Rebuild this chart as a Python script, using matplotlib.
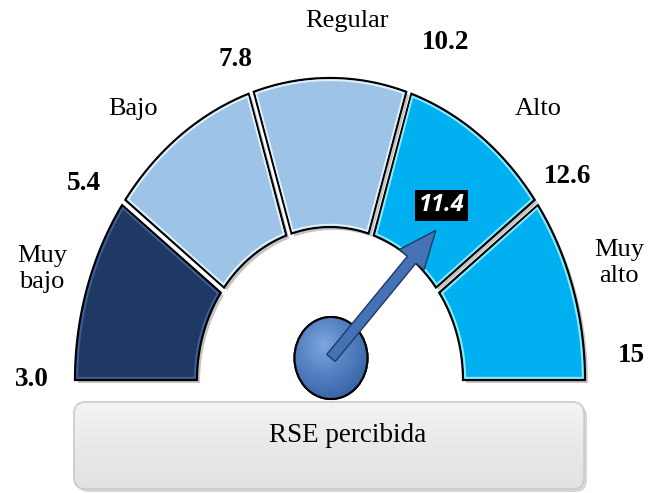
import numpy as np
import matplotlib.pyplot as plt
from matplotlib.patches import Polygon, Ellipse, FancyBboxPatch, FancyArrow

# datos del indicador
limites = [3.0, 5.4, 7.8, 10.2, 12.6, 15]
limite_labels = ['3.0', '5.4', '7.8', '10.2', '12.6', '15']
categorias = ['Muy\nbajo', 'Bajo', 'Regular', 'Alto', 'Muy\nalto']
valor = 11.4
titulo = 'RSE percibida'

colores = ['#1F3864', '#9DC3E6', '#9DC3E6', '#00B0F0', '#00B0F0']
brillos = ['#3D5E96', '#DDF0FC', '#DDF0FC', '#8CEBFF', '#8CEBFF']

# geometria del medidor (pixeles)
CX, CY = 330, 380
RXo, RYo = 255, 302
RXi, RYi = 133, 153
G = 3.0

plt.rcParams['font.family'] = ['Liberation Serif', 'DejaVu Serif']

fig = plt.figure(figsize=(6.51, 4.93), dpi=100)
ax = fig.add_axes([0, 0, 1, 1])
ax.set_xlim(0, 651)
ax.set_ylim(493, 0)
ax.axis('off')


def ang(v):
    return np.pi * (1 - (v - limites[0]) / (limites[-1] - limites[0]))


def ell(t, rx, ry):
    return CX + rx * np.cos(t), CY - ry * np.sin(t)


def segmento(i, g, dr):
    ta, tb = ang(limites[i]), ang(limites[i + 1])
    go_a = 0 if i == 0 else g
    go_b = 0 if i == len(categorias) - 1 else g
    ro = (RXo + RYo) / 2
    ri = (RXi + RYi) / 2
    t_out = np.linspace(ta - go_a / ro, tb + go_b / ro, 80)
    t_in = np.linspace(tb + go_b / ri, ta - go_a / ri, 80)
    xo, yo = ell(t_out, RXo - dr, RYo - dr)
    xi, yi = ell(t_in, RXi + dr, RYi + dr)
    pts = np.vstack([np.column_stack([xo, yo]), np.column_stack([xi, yi])])
    if dr > 0:
        pts[:, 1] = np.minimum(pts[:, 1], CY - dr)
    return pts


# segmentos con sombra
for i in range(len(categorias)):
    pts = segmento(i, G, 0)
    ax.add_patch(Polygon(pts + [3, 3], closed=True, fc='#7F7F7F', ec='none', alpha=0.45, zorder=1))
for i in range(len(categorias)):
    pts = segmento(i, G, 0)
    ax.add_patch(Polygon(pts, closed=True, fc=colores[i], ec='black', lw=1.6, zorder=2))
    ax.add_patch(Polygon(segmento(i, G + 2, 2.2), closed=True, fc='none', ec=brillos[i], lw=1.4, zorder=3))

# etiquetas de categorias
cat_off = [(-9, -4), (-25, 10), (17, -12), (36, 10), (10, -10)]
for i, lab in enumerate(categorias):
    t = (ang(limites[i]) + ang(limites[i + 1])) / 2
    x, y = ell(t, RXo * 1.15, RYo * 1.15)
    ax.text(x + cat_off[i][0], y + cat_off[i][1], lab, ha='center', va='center',
            fontsize=19, linespacing=1.25, zorder=5)

# etiquetas de limites
lim_off = [(0, 0), (-5, 11), (-2, 16), (23, -1), (-4, 4), (3, -25)]
for v, lab, off in zip(limites, limite_labels, lim_off):
    x, y = ell(ang(v), RXo * 1.17, RYo * 1.17)
    ax.text(x + off[0], y + off[1], lab, ha='center', va='center',
            fontsize=19.5, fontweight='bold', zorder=5)

# eje central
HX, HY = 331, 358
hub = Ellipse((HX, HY), 73, 82, fc='#4A7BBE', ec='black', lw=1.5, zorder=6)
ax.add_patch(hub)
gx, gy = np.meshgrid(np.linspace(-1, 1, 200), np.linspace(-1, 1, 200))
rad = np.clip(np.sqrt((gx + 0.2) ** 2 + (gy + 0.3) ** 2), 0, 1.3)
img = ax.imshow(rad, cmap=plt.matplotlib.colors.LinearSegmentedColormap.from_list(
    'hub', ['#7FA6DE', '#5584C4', '#3A66A6']), extent=(HX - 37, HX + 37, HY + 42, HY - 42),
    zorder=6.1, interpolation='bilinear')
img.set_clip_path(hub)
ax.add_patch(Ellipse((HX, HY), 73, 82, fc='none', ec='black', lw=1.5, zorder=6.2))

# aguja
t = ang(valor)
tx, ty = ell(t, 180, 185)
ax.add_patch(FancyArrow(HX, HY, tx - HX, ty - HY, width=11, head_width=32, head_length=38,
                        length_includes_head=True, fc='#4472B4', ec='#1F3B66', lw=1.0, zorder=7))

ax.text(tx + 6, ty - 25, f'{valor:.1f}', ha='center', va='center', color='white',
        fontsize=17, fontweight='bold', style='italic', family=['Open Sans', 'DejaVu Sans'],
        bbox=dict(boxstyle='square,pad=0.15', fc='black', ec='none'), zorder=8)

# recuadro inferior
ax.add_patch(FancyBboxPatch((77, 405), 510, 87, boxstyle='round,pad=0,rounding_size=12',
                            fc='#B0B0B0', ec='none', alpha=0.5, zorder=1))
caja = FancyBboxPatch((74, 402), 510, 87, boxstyle='round,pad=0,rounding_size=12',
                      fc='#ECECEC', ec='#CFCFCF', lw=1.0, zorder=2)
ax.add_patch(caja)
grad = np.linspace(0, 1, 100).reshape(-1, 1)
gimg = ax.imshow(grad, cmap=plt.matplotlib.colors.LinearSegmentedColormap.from_list(
    'caja', ['#F4F4F4', '#E9E9E9', '#E2E2E2']), extent=(74, 584, 489, 402),
    aspect='auto', zorder=2.1)
gimg.set_clip_path(caja)
ax.add_patch(FancyBboxPatch((74, 402), 510, 87, boxstyle='round,pad=0,rounding_size=12',
                            fc='none', ec='#C8C8C8', lw=1.0, zorder=2.2))
ax.text(348, 436, titulo, ha='center', va='center', fontsize=19.5, zorder=5)

ax.set_xlim(0, 651)
ax.set_ylim(493, 0)
fig.savefig('out.png', dpi=100, facecolor='white')
